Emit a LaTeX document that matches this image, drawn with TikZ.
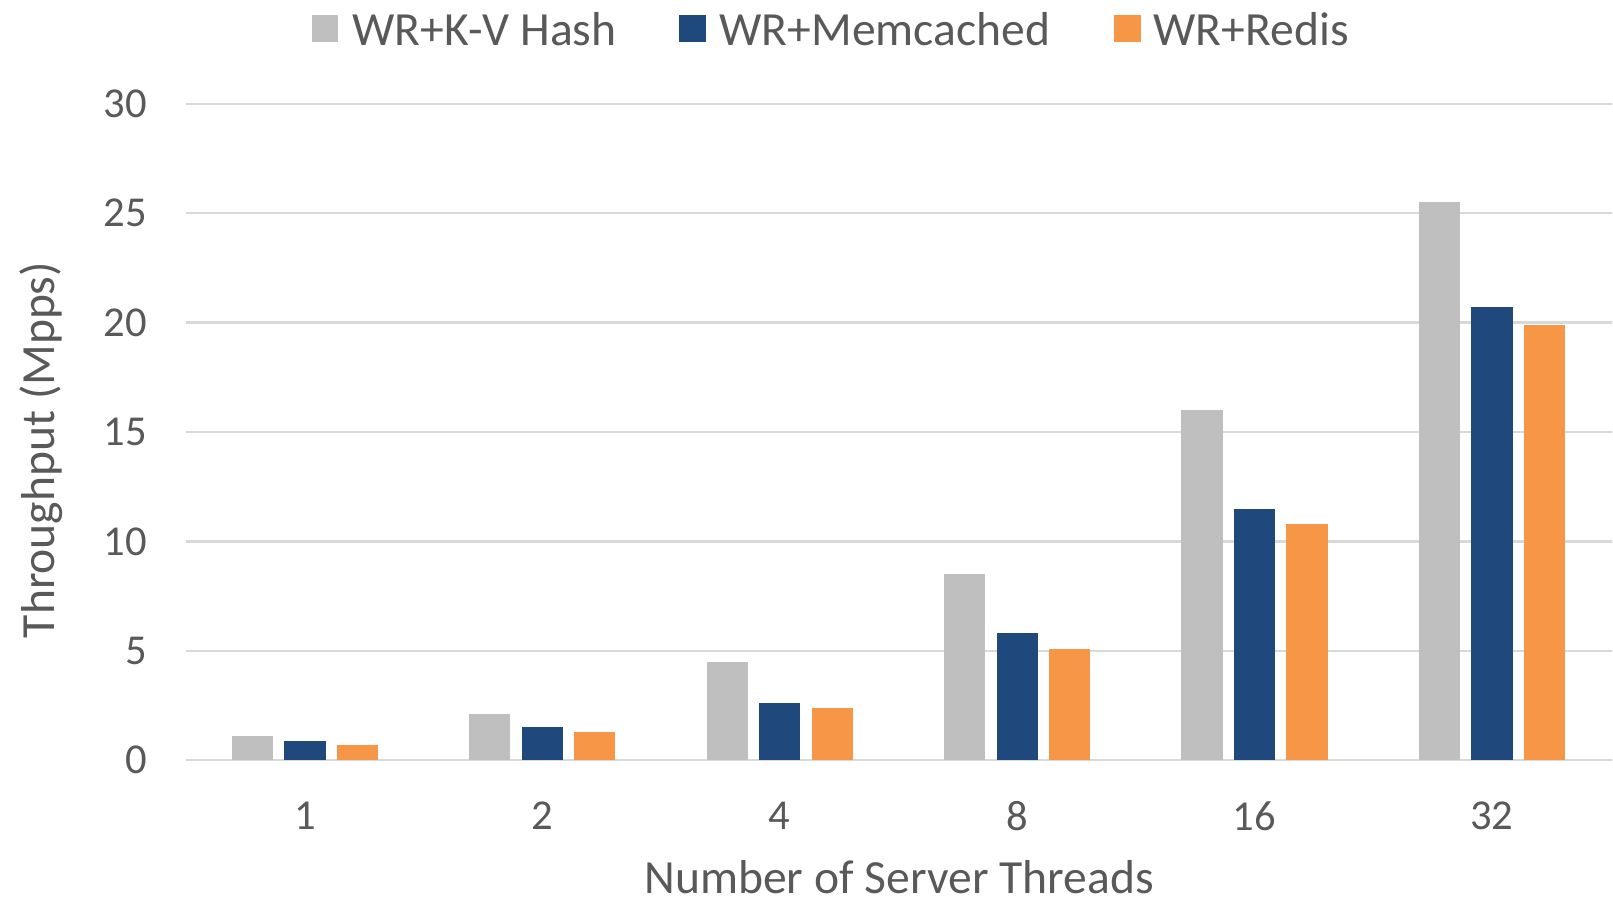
\documentclass[tikz,border=0pt]{standalone}
\usepackage{fontspec}
\setmainfont{Carlito}
\usepackage{tikz}
\usetikzlibrary{positioning}

\definecolor{hashgray}{HTML}{BFBFBF}
\definecolor{memblue}{HTML}{1F497D}
\definecolor{redisorange}{HTML}{F79646}
\definecolor{labeltext}{HTML}{595959}
\definecolor{gridgray}{HTML}{D9D9D9}

\begin{document}
\begin{tikzpicture}[x=0.5pt, y=-0.5pt,
   ticklabel/.style={text=labeltext, font=\fontsize{21.3}{25}\selectfont, inner sep=0pt},
   axistitle/.style={text=labeltext, font=\fontsize{23.8}{28}\selectfont, inner sep=0pt},
   keybox/.style={minimum size=13.4pt, inner sep=0pt},
   gridline/.style={draw=gridgray, line width=1.2pt},
   hashbar/.style={fill=hashgray},
   membar/.style={fill=memblue},
   redisbar/.style={fill=redisorange}
]
\useasboundingbox (0,0) rectangle (1613,902);

% Legend
\node [keybox, fill=hashgray] (keyhash) at (325,28.8) {};
\node [axistitle, anchor=west] (txthash) at (351.8,28.8) {WR+K-V Hash};
\node [keybox, fill=memblue] (keymem) at (692.3,28.8) {};
\node [axistitle, anchor=west] (txtmem) at (719.1,28.8) {WR+Memcached};
\node [keybox, fill=redisorange] (keyredis) at (1127.5,28.8) {};
\node [axistitle, anchor=west] (txtredis) at (1153.2,28.8) {WR+Redis};

\begin{scope}[shift={(0,760.2)}, y=10.94pt]
% Grid and value axis
\foreach \v in {0,5,...,30} {
  \draw [gridline] (186.2,\v) -- (1612,\v);
  \node [ticklabel, anchor=east] (tick\v) at (147,\v) {\v};
}

% Bars
\fill [hashbar]  (231.8,0) rectangle (273.0,1.1);
\fill [membar]   (284.3,0) rectangle (325.5,0.9);
\fill [redisbar] (336.8,0) rectangle (378.0,0.7);
\fill [hashbar]  (469.2,0) rectangle (510.4,2.1);
\fill [membar]   (521.7,0) rectangle (562.9,1.5);
\fill [redisbar] (574.2,0) rectangle (615.4,1.3);
\fill [hashbar]  (706.6,0) rectangle (747.8,4.5);
\fill [membar]   (759.1,0) rectangle (800.3,2.6);
\fill [redisbar] (811.6,0) rectangle (852.8,2.4);
\fill [hashbar]  (944.0,0) rectangle (985.2,8.5);
\fill [membar]   (996.5,0) rectangle (1037.7,5.8);
\fill [redisbar] (1049.0,0) rectangle (1090.2,5.1);
\fill [hashbar]  (1181.4,0) rectangle (1222.6,16.0);
\fill [membar]   (1233.9,0) rectangle (1275.1,11.5);
\fill [redisbar] (1286.4,0) rectangle (1327.6,10.8);
\fill [hashbar]  (1418.8,0) rectangle (1460.0,25.5);
\fill [membar]   (1471.3,0) rectangle (1512.5,20.7);
\fill [redisbar] (1523.8,0) rectangle (1565.0,19.9);
\end{scope}

% Categories
\node [ticklabel] (cat1) at (304.9,816) {1};
\node [ticklabel] (cat2) at (542.3,816) {2};
\node [ticklabel] (cat4) at (779.7,816) {4};
\node [ticklabel] (cat8) at (1017.1,816) {8};
\node [ticklabel] (cat16) at (1254.5,816) {16};
\node [ticklabel] (cat32) at (1491.9,816) {32};

% Axis titles
\node [axistitle] (xtitle) at (899,877) {Number of Server Threads};
\node [axistitle, rotate=90] (ytitle) at (41,450) {Throughput (Mpps)};

\end{tikzpicture}
\end{document}
